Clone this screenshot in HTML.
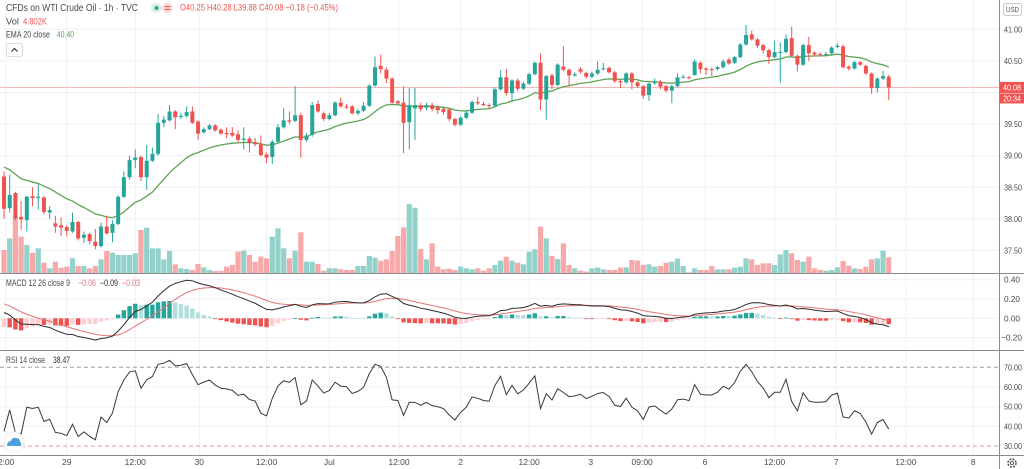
<!DOCTYPE html>
<html><head><meta charset="utf-8"><style>
html,body{margin:0;padding:0;background:#fff;}
svg{display:block;font-family:"Liberation Sans",sans-serif;}
</style></head><body>
<svg id="c" width="1024" height="469" viewBox="0 0 1024 469" xmlns="http://www.w3.org/2000/svg"></svg>
<script>
// ---- data ----
const opens=[38.67,38.17,38.41,38.03,37.98,38.36,38.33,38.34,38.10,37.93,37.90,37.87,37.80,37.95,37.70,37.76,37.64,37.57,37.88,37.78,37.92,38.35,38.66,38.93,38.98,38.66,38.92,39.03,39.52,39.56,39.70,39.62,39.63,39.70,39.54,39.37,39.42,39.48,39.41,39.36,39.36,39.34,39.25,39.27,39.21,39.18,39.02,38.98,39.22,39.45,39.56,39.55,39.64,39.25,39.33,39.82,39.67,39.58,39.64,39.84,39.78,39.78,39.67,39.71,39.79,40.11,40.42,40.36,40.22,39.86,39.84,39.53,39.75,39.80,39.76,39.80,39.77,39.74,39.73,39.58,39.49,39.60,39.68,39.85,39.82,39.80,39.79,40.05,40.24,39.99,40.19,40.06,40.14,40.29,40.47,39.89,40.27,40.12,40.41,40.36,40.27,40.37,40.31,40.25,40.30,40.37,40.39,40.32,40.18,40.16,40.30,40.16,40.10,39.96,40.15,40.17,40.10,40.03,40.10,40.24,40.24,40.28,40.47,40.38,40.37,40.37,40.40,40.52,40.47,40.56,40.76,40.92,40.84,40.75,40.67,40.56,40.63,40.64,40.86,40.58,40.44,40.75,40.63,40.61,40.60,40.62,40.72,40.73,40.41,40.38,40.48,40.42,40.30,40.07,40.22,40.25];
const highs=[38.75,38.70,38.43,38.28,38.37,38.50,38.57,38.36,38.20,38.05,38.02,37.90,38.10,37.97,37.80,37.78,37.84,37.94,38.05,37.98,38.37,38.75,39.00,39.10,39.00,39.17,39.13,39.66,39.63,39.80,39.72,39.68,39.78,39.78,39.56,39.45,39.50,39.50,39.43,39.45,39.45,39.40,39.45,39.30,39.28,39.32,39.05,39.25,39.50,39.75,39.70,40.10,39.68,39.36,39.85,39.88,39.70,39.68,39.86,39.92,39.82,39.80,39.74,39.85,40.13,40.57,40.60,40.40,40.24,39.88,40.10,40.07,40.07,39.84,39.84,39.84,39.80,39.78,39.76,39.60,39.63,39.72,39.87,39.93,39.85,39.83,40.08,40.35,40.37,40.21,40.22,40.17,40.31,40.49,40.62,40.28,40.30,40.46,40.73,40.38,40.32,40.40,40.33,40.33,40.49,40.47,40.41,40.34,40.20,40.32,40.33,40.18,40.12,40.16,40.22,40.20,40.12,40.12,40.30,40.28,40.26,40.52,40.49,40.40,40.40,40.42,40.52,40.55,40.58,40.78,41.07,40.98,40.86,40.77,40.69,40.82,40.79,40.92,41.04,40.60,40.77,40.88,40.65,40.63,40.64,40.73,40.78,40.76,40.43,40.50,40.50,40.44,40.32,40.24,40.34,40.28];
const lows=[38.00,38.10,37.98,37.83,37.80,38.20,38.15,38.07,38.00,37.78,37.73,37.72,37.78,37.66,37.62,37.60,37.52,37.55,37.75,37.63,37.90,38.33,38.62,38.80,38.60,38.46,38.90,39.00,39.45,39.54,39.42,39.58,39.60,39.50,39.25,39.35,39.40,39.38,39.33,39.28,39.30,39.20,39.10,39.05,39.15,38.99,38.88,38.87,39.20,39.43,39.50,39.53,38.97,39.22,39.30,39.68,39.55,39.56,39.62,39.76,39.74,39.65,39.64,39.69,39.77,40.09,40.30,40.15,39.82,39.80,39.04,39.10,39.25,39.70,39.72,39.70,39.66,39.65,39.55,39.46,39.47,39.58,39.66,39.80,39.78,39.75,39.77,40.03,39.95,39.85,40.02,40.04,40.12,40.27,39.72,39.57,40.05,40.10,40.34,40.10,40.25,40.30,40.22,40.23,40.28,40.35,40.30,40.15,40.07,40.14,40.05,40.07,39.90,39.87,40.12,40.05,40.00,39.83,40.08,40.22,40.21,40.26,40.30,40.28,40.26,40.35,40.38,40.44,40.45,40.54,40.74,40.82,40.70,40.62,40.45,40.54,40.15,40.62,40.56,40.33,40.42,40.50,40.57,40.57,40.57,40.60,40.70,40.38,40.35,40.36,40.42,40.28,39.98,40.00,40.20,39.88];
const closes=[38.16,38.38,38.01,37.99,38.35,38.33,38.35,38.11,38.14,37.88,37.86,37.81,37.95,37.69,37.75,37.65,37.57,37.88,37.77,37.92,38.35,38.66,38.93,38.97,38.66,38.92,39.03,39.52,39.57,39.70,39.61,39.63,39.69,39.52,39.35,39.42,39.48,39.40,39.35,39.34,39.32,39.25,39.27,39.20,39.18,39.01,38.97,39.22,39.45,39.56,39.54,39.64,39.25,39.32,39.80,39.70,39.58,39.64,39.84,39.78,39.77,39.67,39.71,39.79,40.11,40.40,40.37,40.22,39.84,39.83,39.52,39.80,39.80,39.74,39.80,39.74,39.72,39.69,39.58,39.49,39.60,39.68,39.85,39.83,39.80,39.79,40.05,40.24,39.99,40.19,40.06,40.14,40.29,40.47,39.89,40.26,40.12,40.44,40.36,40.27,40.29,40.33,40.25,40.30,40.36,40.38,40.32,40.18,40.16,40.30,40.16,40.10,39.95,40.14,40.16,40.09,40.03,40.10,40.24,40.25,40.23,40.49,40.37,40.36,40.36,40.40,40.49,40.46,40.56,40.76,40.91,40.84,40.74,40.67,40.56,40.64,40.64,40.85,40.58,40.44,40.75,40.62,40.60,40.60,40.61,40.71,40.74,40.40,40.38,40.48,40.44,40.30,40.07,40.22,40.26,40.08];
const volumes=[7.0,10.5,17,11,8.5,6.2,7.5,3.2,1.5,3.5,1.7,2,4.5,2.2,2.2,1.5,2.2,4.2,6.7,6.2,5.5,5.5,5.5,6.0,13,13.7,7.5,7.5,4.2,6.7,2.7,1.5,1.3,1.0,2.8,1.8,1.0,0.7,0.7,2.0,
2.5,6.5,6.8,5.5,3.5,5.0,4.5,11,13.5,7.5,4.5,6.8,12.3,3.5,3.5,2.8,0.8,1.5,1.5,1.2,1.0,1.0,2.2,2.2,5.2,4.7,3.8,4.2,6.7,11.2,13.8,20.8,19.7,7.3,4.2,9,2.0,1.2,1.4,1.0,
2.0,1.5,1.2,1.5,0.8,1.5,2.5,3.8,5.0,3.8,3.2,2.7,6.5,7.2,14,10.5,5.2,4.3,9.0,2.5,1.5,0.8,0.5,1.5,1.7,1.2,1.0,1.0,1.7,1.8,4.0,3.8,2.5,2.7,2.0,2.2,3.2,3.5,4.4,
2.2,0.3,1.5,1.0,1.0,2.2,1.2,1.2,1.2,1.7,2.0,4.5,4.2,2.5,3.0,3.0,2.5,5.7,7.0,6.0,4.0,3.5,5.0,1.5,1.0,0.8,1.0,1.8,3.7,2.3,1.5,1.3,2.0,4.2,4.5,6.8,4.8];
const priceTicks=[41.00,40.50,39.50,39.00,38.50,38.00,37.50];
const macdTicks=[0.40,0.20,0.00,-0.20];
const rsiTicks=[70,60,50,40,30];
const timeLabels=["2:00","29","12:00","30","12:00","Jul","12:00","2","12:00","3","09:00","6","12:00","7","12:00","8"];
const timeLabelBars=[0.35,11,23,34.2,46,57,69.2,80,92,102.8,111.8,122.8,135,145.8,158,169.8];
const lastPrice=40.08;
const emaSeed=38.82, e12Seed=38.66, e26Seed=38.60, sigSeed=0.15, rsiGainSeed=0.03, rsiLossSeed=0.05;

// ---- axes ----
const xB=i=>4+i*5.708;
const yP=p=>29.3+(41-p)*63.2;
const yV=v=>273.3-v*3.33;
const yM=m=>318.3-m*96.5;
const yR=r=>367.3+(70-r)*1.97;

const svg=document.getElementById('c');
const NS='http://www.w3.org/2000/svg';
function mk(tag,attrs,parent){const e=document.createElementNS(NS,tag);for(const k in attrs)e.setAttribute(k,attrs[k]);(parent||svg).appendChild(e);return e;}
function txt(s,x,y,attrs,parent){const t=mk('text',Object.assign({x:x,y:y},attrs),parent);t.textContent=s;return t;}

const UP='#26a69a', DN='#ef5350';

// grid
const grid=mk('g',{});


timeLabelBars.forEach(b=>{const x=xB(b);mk('line',{x1:x,y1:0,x2:x,y2:455,stroke:'#eef0f5','stroke-width':1},grid);});
priceTicks.concat([40.0]).forEach(p=>mk('line',{x1:0,y1:yP(p),x2:999,y2:yP(p),stroke:'#eef0f5'},grid));
macdTicks.forEach(m=>mk('line',{x1:0,y1:yM(m),x2:999,y2:yM(m),stroke:'#eef0f5'},grid));
[60,50,40].forEach(r=>mk('line',{x1:0,y1:yR(r),x2:999,y2:yR(r),stroke:'#eef0f5'},grid));

// volume
const vg=mk('g',{});


volumes.forEach((v,i)=>{
  const up=closes[i]>=opens[i];
  const r=mk('rect',{x:xB(i)-2.6,y:yV(v),width:5.2,height:273.3-yV(v),fill:up?'#93d2ca':'#f6a9a8'},vg);
  
  
});

// last price line
const lp=mk('line',{x1:0,y1:yP(lastPrice),x2:999,y2:yP(lastPrice),stroke:'#f2b8b8','stroke-width':1});



// EMA
function emaCalc(arr,n,seed){const k=2/(n+1);const out=[seed];for(let i=1;i<arr.length;i++)out.push(arr[i]*k+out[i-1]*(1-k));return out;}
const ema20=emaCalc(closes,20,emaSeed);
const emaLine=mk('polyline',{points:ema20.map((v,i)=>xB(i)+','+yP(v)).join(' '),fill:'none',stroke:'#5da454','stroke-width':1.3});



// candles
const cg=mk('g',{});


closes.forEach((c,i)=>{
  const o=opens[i],up=c>=o,col=up?UP:DN,x=xB(i);
  const g=mk('g',{},cg);
  
  
  mk('line',{x1:x,y1:yP(highs[i]),x2:x,y2:yP(lows[i]),stroke:col,'stroke-width':1},g);
  const t=yP(Math.max(o,c)),b=yP(Math.min(o,c));
  mk('rect',{x:x-2,y:t,width:4,height:Math.max(1,b-t),fill:col},g);
});

// MACD
const e12=emaCalc(closes,12,e12Seed), e26=emaCalc(closes,26,e26Seed);
const macd=e12.map((v,i)=>v-e26[i]);
const sig=[sigSeed];for(let i=1;i<macd.length;i++)sig.push(macd[i]*0.2+sig[i-1]*0.8);
const hist=macd.map((v,i)=>v-sig[i]);
const hg=mk('g',{});


hist.forEach((h,i)=>{
  const prev=i>0?hist[i-1]:h;
  let col;
  if(h>=0)col=h>=prev?'#26a69a':'#b2dfdb';else col=h<prev?'#ef5350':'#ffcdd2';
  const y0=yM(0),y1=yM(h);
  const r=mk('rect',{x:xB(i)-2.2,y:Math.min(y0,y1),width:4.4,height:Math.max(0.8,Math.abs(y1-y0)),fill:col},hg);
  
  
});
const sl=mk('polyline',{points:sig.map((v,i)=>xB(i)+','+yM(v)).join(' '),fill:'none',stroke:'#e57373','stroke-width':1});


const ml=mk('polyline',{points:macd.map((v,i)=>xB(i)+','+yM(v)).join(' '),fill:'none',stroke:'#2b2b2b','stroke-width':1});



// RSI
let ag=rsiGainSeed,al=rsiLossSeed;const rsi=[100-100/(1+ag/al)];
for(let i=1;i<closes.length;i++){const d=closes[i]-closes[i-1];ag=(ag*13+Math.max(d,0))/14;al=(al*13+Math.max(-d,0))/14;rsi.push(100-100/(1+ag/al));}
const b70=mk('line',{x1:0,y1:yR(70),x2:999,y2:yR(70),stroke:'#9e9e9e','stroke-dasharray':'4,3'});


const b30=mk('line',{x1:0,y1:yR(30),x2:999,y2:yR(30),stroke:'#d99a9a','stroke-dasharray':'4,3'});


const rl=mk('polyline',{points:rsi.map((v,i)=>xB(i)+','+yR(v)).join(' '),fill:'none',stroke:'#3a3a3a','stroke-width':1});



// pane separators & axis
[273.5,350.5,455.5].forEach(y=>{const l=mk('line',{x1:0,y1:y,x2:1024,y2:y,stroke:'#8a8a8a','stroke-width':1});});
const va=mk('line',{x1:999.5,y1:0,x2:999.5,y2:469,stroke:'#8a8a8a'});



const ax={fill:'#4a4a4a','font-size':'8.5px'};
priceTicks.forEach(p=>{const t=txt(p.toFixed(2),1004,yP(p)+3,Object.assign({textLength:18,lengthAdjust:'spacingAndGlyphs'},ax));});
macdTicks.forEach(m=>{const s=(m<0?'\u2212':'')+Math.abs(m).toFixed(2);const t=txt(s,m<0?1001:1004,yM(m)+3,Object.assign({textLength:m<0?21:16,lengthAdjust:'spacingAndGlyphs'},ax));});
rsiTicks.forEach(r=>{const t=txt(r.toFixed(2),1004,yR(r)+3,Object.assign({textLength:18,lengthAdjust:'spacingAndGlyphs'},ax));});
timeLabels.forEach((s,i)=>{const t=txt(s,xB(timeLabelBars[i]),465,Object.assign({'text-anchor':'middle'},ax));});

// last price labels
const lpl=mk('g',{});


mk('rect',{x:1000,y:yP(lastPrice)-5.5,width:24,height:11,fill:'#ef5350'},lpl);
txt('40.08',1003,yP(lastPrice)+3,{fill:'#fff','font-size':'8.5px',textLength:18,lengthAdjust:'spacingAndGlyphs'},lpl);
mk('rect',{x:1000,y:yP(lastPrice)+6,width:24,height:10,fill:'#ef5350'},lpl);
txt('20:34',1003,yP(lastPrice)+14,{fill:'#fff','font-size':'8.5px',textLength:18,lengthAdjust:'spacingAndGlyphs'},lpl);

// USD
const usd=mk('g',{});


mk('rect',{x:1003.5,y:3.5,width:18,height:12,rx:2,fill:'#fff',stroke:'#c8c8c8'},usd);
txt('USD',1006,12,{fill:'#4a4a4a','font-size':'7px',textLength:13,lengthAdjust:'spacingAndGlyphs'},usd);

// settings gear
const gear=mk('g',{});


mk('circle',{cx:1012,cy:463,r:4,fill:'none',stroke:'#555','stroke-width':1.6,'stroke-dasharray':'2,1.2'},gear);
mk('circle',{cx:1012,cy:463,r:1.6,fill:'none',stroke:'#555','stroke-width':1},gear);

// header legend
const F=(w)=>({textLength:w,lengthAdjust:'spacingAndGlyphs'});
const t1=txt('CFDs on WTI Crude Oil \u00b7 1h \u00b7 TVC',6,11,Object.assign({fill:'#4a4a4a','font-size':'10.5px'},F(132)));


const d1=mk('rect',{x:151,y:3,width:11,height:10,rx:5,fill:'#d7f1ed'});


mk('circle',{cx:156.5,cy:8,r:2,fill:'#26a69a'});
const d2=mk('rect',{x:162,y:3,width:11,height:10,rx:5,fill:'#fbd9dc'});


txt('=',164.5,11.5,{fill:'#ef5350','font-size':'10px','font-weight':'bold'});
const ohlc=txt('O40.25 H40.28 L39.88 C40.08 \u22120.18 (\u22120.45%)',180,10.5,Object.assign({fill:'#ef5350','font-size':'9px'},F(158)));


const vl=txt('Vol',6,24.5,Object.assign({fill:'#4a4a4a','font-size':'9px'},F(13)));


txt('4.802K',23,24.5,Object.assign({fill:'#ef5350','font-size':'9px'},F(24)));
const el=txt('EMA 20 close',6,37.5,Object.assign({fill:'#4a4a4a','font-size':'9px'},F(44)));


txt('40.40',57,37.5,Object.assign({fill:'#5da454','font-size':'9px'},F(17)));
const cb=mk('g',{});


mk('rect',{x:6.5,y:43.5,width:16,height:13,rx:2,fill:'#fff',stroke:'#dcdcdc'},cb);
mk('polyline',{points:'11.5,51.5 14.5,48.5 17.5,51.5',fill:'none',stroke:'#333','stroke-width':1.2},cb);

const mlg=txt('MACD 12 26 close 9',6,286,Object.assign({fill:'#4a4a4a','font-size':'9px'},F(64)));


txt('\u22120.06',78,286,Object.assign({fill:'#e57373','font-size':'9px'},F(18)));
txt('\u22120.09',100,286,Object.assign({fill:'#2b2b2b','font-size':'9px'},F(18)));
txt('\u22120.03',122,286,Object.assign({fill:'#e57373','font-size':'9px'},F(18)));
const rlg=txt('RSI 14 close',6,363,Object.assign({fill:'#4a4a4a','font-size':'9px'},F(39)));


txt('38.47',53,363,Object.assign({fill:'#2b2b2b','font-size':'9px'},F(17)));

// logo
const logo=mk('g',{});


mk('circle',{cx:14,cy:442,r:10,fill:'#fff',stroke:'#eee'},logo);
mk('path',{d:'M7,446 Q7,441 11,441 Q12,437 16,438 Q20,438 20,442 Q22,443 21,446 Z',fill:'#4aa3df'},logo);
</script>
</body></html>
